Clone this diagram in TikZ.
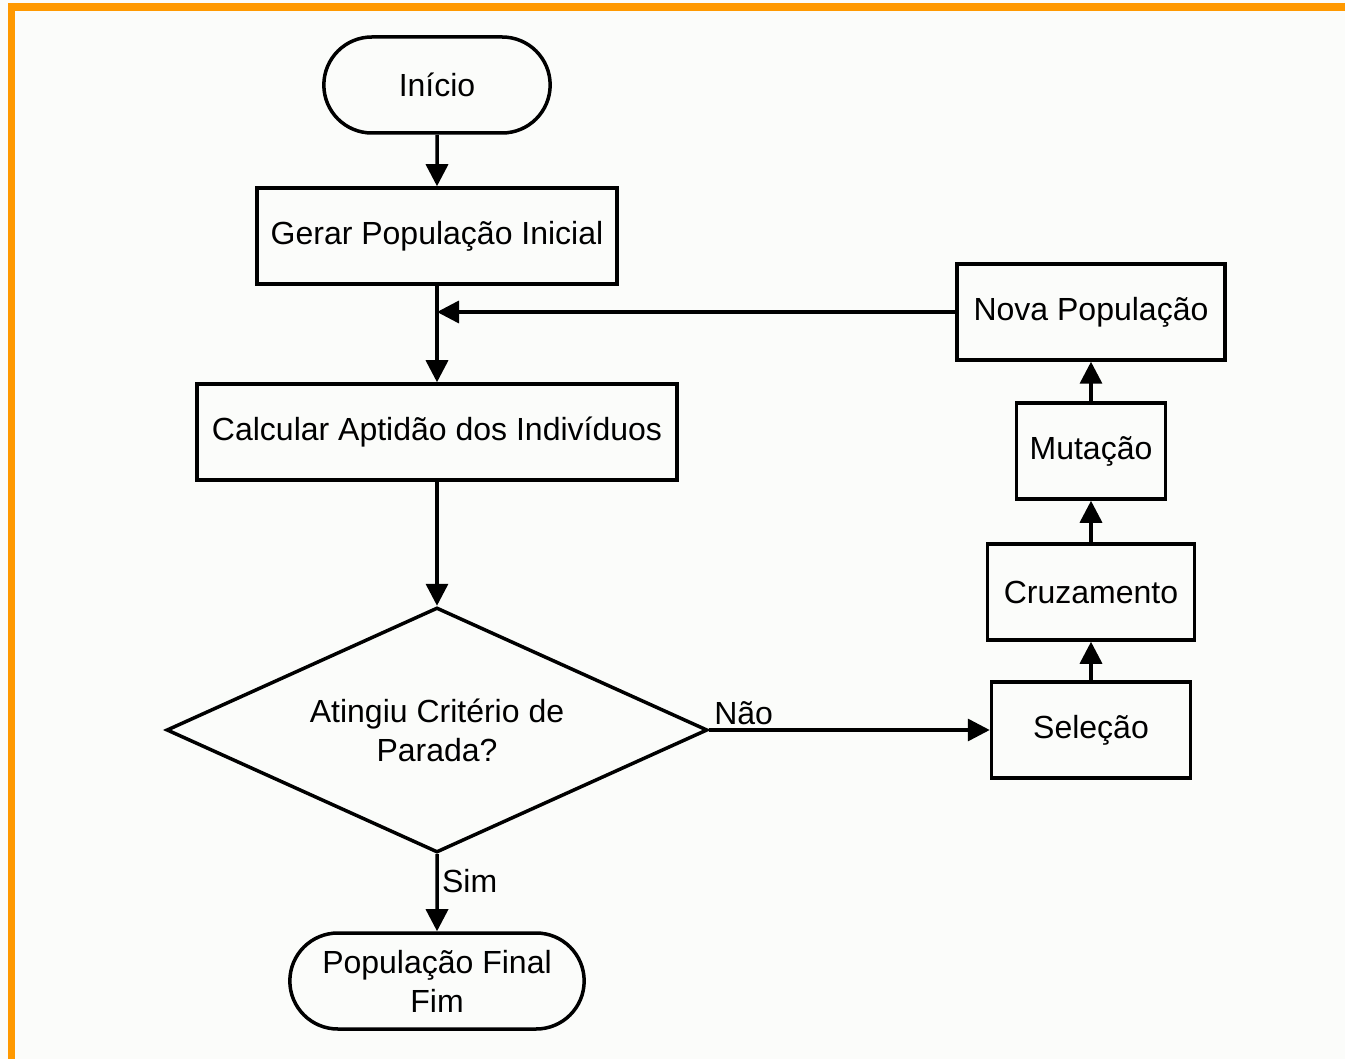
\documentclass[tikz,border=0pt]{standalone}
\usepackage{fontspec}
\setmainfont{Liberation Sans}
\usepackage{tikz}
\usetikzlibrary{shapes,arrows.meta}
\usetikzlibrary{positioning}
\definecolor{moldura}{HTML}{FF9900}
\definecolor{fundo}{HTML}{FBFCFA}
\tikzset{caixa/.style={draw, line width=3.5pt, rectangle, minimum height=96pt},
terminal/.style={draw, line width=3.5pt, rounded rectangle, minimum height=96pt, align=center},
decisao/.style={draw, line width=3.5pt, diamond, aspect=2.2, minimum width=541pt, minimum height=245pt, align=center, inner sep=0pt},
seta/.style={-{Triangle[length=22pt,width=22pt]}, line width=3.5pt}
}

\begin{document}
\begin{tikzpicture}[x=1pt, y=1pt, node distance=150pt, on grid, font=\fontsize{32}{39}\selectfont]
        \useasboundingbox (0,0) rectangle (1345,-1059);
        \fill[fundo] (0,0) rectangle (1345,-1059);
        \fill[moldura] (8,-3) rectangle (1345,-11);
        \fill[moldura] (8,-3) rectangle (15,-1059);

        \node[terminal, minimum width=233pt] (inicio) at (437,-85) {Início};
        \node[caixa, minimum width=360pt] (gerar)    [below=151pt of inicio]   {Gerar População Inicial};
        \node[caixa, minimum width=480pt] (calcular) [below=196pt of gerar]    {Calcular Aptidão dos Indivíduos};
        \node[decisao]                    (parada)   [below=298pt of calcular] {Atingiu Critério de\\Parada?};
        \node[terminal, minimum width=301pt] (fim)   [below=251pt of parada]   {População Final\\Fim};

        \node[caixa, minimum width=199pt] (selecao)    [right=654pt of parada]   {Seleção};
        \node[caixa, minimum width=207pt] (cruzamento) [above=138pt of selecao]  {Cruzamento};
        \node[caixa, minimum width=149pt] (mutacao)    [above=141pt of cruzamento] {Mutação};
        \node[caixa, minimum width=268pt] (nova)       [above=139pt of mutacao]  {Nova População};

        \coordinate (juncao) at (gerar.south |- nova.west);

        \path[seta] (inicio)     edge (gerar)
                    (gerar)      edge (calcular)
                    (calcular)   edge (parada)
                    (parada)     edge node [pos=0, above right] {Não} (selecao)
                                 edge node [pos=0.35, right]    {Sim} (fim)
                    (selecao)    edge (cruzamento)
                    (cruzamento) edge (mutacao)
                    (mutacao)    edge (nova)
                    (nova)       edge (juncao);
      \end{tikzpicture}
\end{document}
